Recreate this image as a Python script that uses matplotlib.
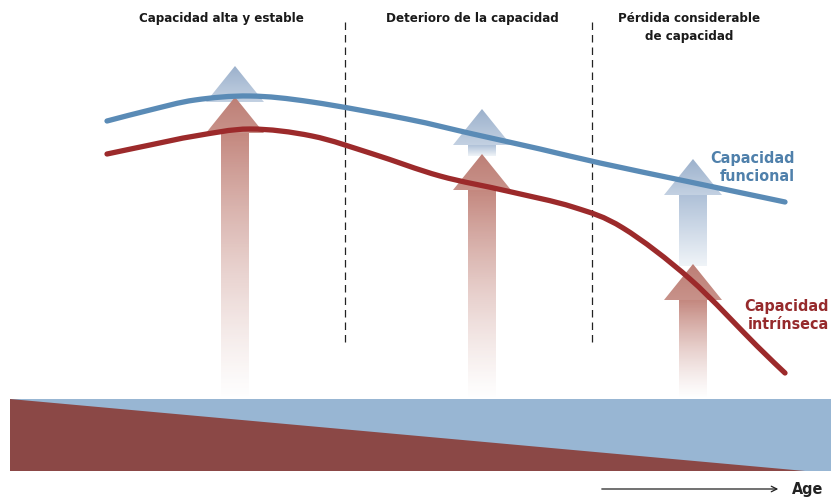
import numpy as np
import matplotlib
matplotlib.use("Agg")
import matplotlib.pyplot as plt
from matplotlib.patches import Polygon, Rectangle, PathPatch
from matplotlib.path import Path
from matplotlib import colors as mcolors

# curve points (pixel coords, y down)
func_x = [107, 150, 195, 250, 312, 407, 473, 540, 600, 690, 785]
func_y = [122, 111, 101, 97, 103, 120, 135, 150, 164, 183, 203]
intr_x = [107, 150, 195, 250, 312, 373, 440, 507, 573, 623, 690, 757, 785]
intr_y = [155, 146, 137, 130, 137, 155, 177, 192, 208, 229, 280, 347, 374]

# arrows: centre x, blue head tip, red head tip
arrow_x = [235, 482, 693]
blue_tip = [67, 110, 160]
red_tip = [98, 155, 265]

phase_x = [345, 592]
phase_labels = ["Capacidad alta y estable", "Deterioro de la capacidad", "Pérdida considerable\nde capacidad"]
phase_lx = [221, 472, 689]

BLUE = "#5a8bb6"
RED = "#9c2a2b"
FONT = dict(family="DejaVu Sans", fontstretch="condensed", fontweight="bold")

fig = plt.figure(figsize=(8.31, 5.02), dpi=100)
ax = fig.add_axes([0, 0, 1, 1])
ax.axis("off")


def grad_fill(verts, c_top, c_bot, a_top=1.0, a_bot=1.0, z=2):
    poly = Polygon(verts, closed=True, fc="none", ec="none")
    ax.add_patch(poly)
    xs = [v[0] for v in verts]
    ys = [v[1] for v in verts]
    n = 256
    t = np.linspace(0, 1, n)[:, None]
    top = np.array(mcolors.to_rgb(c_top))
    bot = np.array(mcolors.to_rgb(c_bot))
    rgba = np.zeros((n, 1, 4))
    rgba[:, 0, :3] = top * (1 - t) + bot * t
    rgba[:, 0, 3] = (a_top * (1 - t) + a_bot * t)[:, 0]
    im = ax.imshow(rgba, extent=(min(xs), max(xs), max(ys), min(ys)),
                   origin="upper", aspect="auto", zorder=z, interpolation="bilinear")
    im.set_clip_path(poly)


def smooth_curve(xs, ys, color):
    # bezier path through the read points (catmull-rom handles)
    p = np.column_stack([xs, ys]).astype(float)
    p = np.vstack([2 * p[0] - p[1], p, 2 * p[-1] - p[-2]])
    verts = [p[1]]
    codes = [Path.MOVETO]
    for i in range(1, len(p) - 2):
        c1 = p[i] + (p[i + 1] - p[i - 1]) / 6
        c2 = p[i + 1] - (p[i + 2] - p[i]) / 6
        verts += [c1, c2, p[i + 1]]
        codes += [Path.CURVE4] * 3
    patch = PathPatch(Path(verts, codes), fc="none", ec=color, lw=3.8,
                      capstyle="round", joinstyle="round", zorder=5)
    ax.add_patch(patch)


hw = 29   # head half width
sw = 14   # shaft half width
hl = 36   # head length
shaft_end = 398

for cx, bt, rt in zip(arrow_x, blue_tip, red_tip):
    # blue head + shaft
    grad_fill([(cx, bt), (cx + hw, bt + hl), (cx - hw, bt + hl)], "#9cb1cc", "#c3d1e2")
    if rt > bt + hl:
        grad_fill([(cx - sw, bt + hl), (cx + sw, bt + hl), (cx + sw, rt + 2), (cx - sw, rt + 2)],
                  "#afc1d8", "#f0f4f8")
    # red head + shaft
    grad_fill([(cx, rt), (cx + hw, rt + hl), (cx - hw, rt + hl)], "#bd7f76", "#c8928a", z=3)
    grad_fill([(cx - sw, rt + hl), (cx + sw, rt + hl), (cx + sw, shaft_end), (cx - sw, shaft_end)],
              "#c4887f", "#ffffff", 1.0, 0.6, z=3)

# phase separators
for px in phase_x:
    ax.plot([px, px], [23, 348], color="#222222", lw=0.9, ls=(0, (6, 4)), zorder=1)

# curves
smooth_curve(func_x, func_y, BLUE)
smooth_curve(intr_x, intr_y, RED)

# bottom band
ax.add_patch(Rectangle((10, 400), 821, 72, fc="#98b6d3", ec="none", zorder=1))
ax.add_patch(Polygon([(10, 400), (10, 472), (805, 472)], closed=True, fc="#8b4846", ec="none", zorder=1))

# texts
for lx, lab in zip(phase_lx, phase_labels):
    ax.text(lx, 12, lab, ha="center", va="top", fontsize=9.5, color="#1a1a1a",
            linespacing=1.5, **FONT)

ax.text(795, 168, "Capacidad\nfuncional", ha="right", va="center", fontsize=11.5,
        color="#4f80ab", linespacing=1.25, **FONT)
ax.text(829, 316, "Capacidad\nintrínseca", ha="right", va="center", fontsize=11.5,
        color="#962a2c", linespacing=1.25, **FONT)

ax.annotate("", xy=(781, 490), xytext=(599, 490),
            arrowprops=dict(arrowstyle="->", color="#222222", lw=0.9))
ax.text(792, 490, "Age", ha="left", va="center", fontsize=11.5, color="#222222", **FONT)

ax.set_xlim(0, 831)
ax.set_ylim(502, 0)

fig.savefig("out.png", dpi=100, facecolor="white")
